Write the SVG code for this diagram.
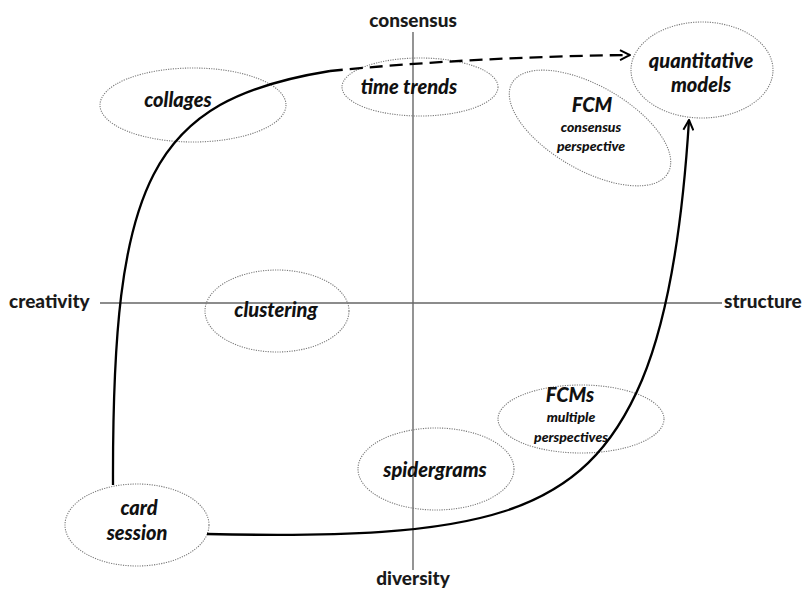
<svg xmlns="http://www.w3.org/2000/svg" width="807" height="589" viewBox="0 0 807 589">
  <style>
    .axis { stroke: #666; stroke-width: 1.4; fill: none; }
    .axis-label { font-family: Lato, "Open Sans", sans-serif; font-weight: 900; font-size: 19px; fill: #1a1a1a; }
    .node-shape { fill: none; stroke: #7a7a7a; stroke-width: 1.1; stroke-dasharray: 1.2 1.2; }
    .title { font-family: Lato, "Open Sans", sans-serif; font-weight: 900; font-style: italic; font-size: 20px; fill: #111; text-anchor: middle; }
    .sub { font-family: Lato, "Open Sans", sans-serif; font-weight: 900; font-style: italic; font-size: 14px; fill: #111; text-anchor: middle; }
    .flow { fill: none; stroke: #000; stroke-width: 2.3; }
    .flow-dashed { fill: none; stroke: #000; stroke-width: 2.3; stroke-dasharray: 13 7; }
  </style>
  <defs>
    <marker id="chevron" markerUnits="userSpaceOnUse" viewBox="0 0 12 12" refX="11" refY="6" markerWidth="12" markerHeight="12" orient="auto">
      <path d="M1,1 L11,6 L1,11" fill="none" stroke="#000" stroke-width="2"/>
    </marker>
  </defs>

  <rect width="807" height="589" fill="#fff"/>

  <!-- axes -->
  <g id="axes">
    <line class="axis" x1="413" y1="32" x2="413" y2="570"/>
    <line class="axis" x1="100" y1="303" x2="722" y2="303"/>
    <text class="axis-label" x="413" y="27" text-anchor="middle">consensus</text>
    <text class="axis-label" x="413" y="585" text-anchor="middle">diversity</text>
    <text class="axis-label" x="9" y="308">creativity</text>
    <text class="axis-label" x="724" y="308">structure</text>
  </g>

  <!-- nodes -->
  <g id="collages">
    <ellipse class="node-shape" cx="193" cy="105" rx="93" ry="37"/>
    <text class="title" x="178" y="107">collages</text>
  </g>
  <g id="time-trends">
    <ellipse class="node-shape" cx="420" cy="87" rx="78" ry="29"/>
    <text class="title" x="409" y="94">time trends</text>
  </g>
  <g id="quantitative-models">
    <ellipse class="node-shape" cx="702" cy="70" rx="71" ry="48"/>
    <text class="title" x="701" y="68">quantitative</text>
    <text class="title" x="701" y="92">models</text>
  </g>
  <g id="fcm-consensus">
    <ellipse class="node-shape" cx="590" cy="128" rx="90" ry="42" transform="rotate(30 590 128)"/>
    <text class="title" x="592" y="112">FCM</text>
    <text class="sub" x="591" y="132">consensus</text>
    <text class="sub" x="591" y="151">perspective</text>
  </g>
  <g id="clustering">
    <ellipse class="node-shape" cx="277" cy="311" rx="72" ry="41"/>
    <text class="title" x="276" y="317">clustering</text>
  </g>
  <g id="fcms-multiple">
    <ellipse class="node-shape" cx="581" cy="419" rx="83" ry="34"/>
    <text class="title" x="570" y="402">FCMs</text>
    <text class="sub" x="571" y="422">multiple</text>
    <text class="sub" x="571" y="442">perspectives</text>
  </g>
  <g id="spidergrams">
    <ellipse class="node-shape" cx="436" cy="469" rx="78" ry="41"/>
    <text class="title" x="435" y="477">spidergrams</text>
  </g>
  <g id="card-session">
    <ellipse class="node-shape" cx="137" cy="525" rx="72" ry="41"/>
    <text class="title" x="139" y="515">card</text>
    <text class="title" x="137" y="540">session</text>
  </g>

  <!-- connectors -->
  <g id="connectors">
    <path class="flow" d="M113,485 C112,180 150,100 330,71"/>
    <path class="flow-dashed" d="M330,71 C420,62 530,56 630,55" marker-end="url(#chevron)"/>
    <path class="flow" d="M207,534 C480,540 584,518 642,380 C673,306 684,200 689,120" marker-end="url(#chevron)"/>
  </g>
</svg>
